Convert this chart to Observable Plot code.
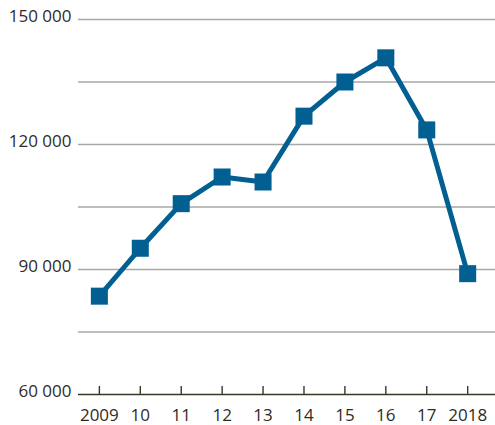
<!DOCTYPE html>
<html>
<head>
<meta charset="utf-8">
<script src="https://cdn.jsdelivr.net/npm/d3@7"></script>
<script src="https://cdn.jsdelivr.net/npm/@observablehq/plot@0.6"></script>
<style>
  html, body { margin: 0; padding: 0; background: #fff; }
  #chart svg { display: block; }
</style>
</head>
<body>
<div id="chart"></div>
<script>
const years = [2009, 2010, 2011, 2012, 2013, 2014, 2015, 2016, 2017, 2018];
const values = [83600, 95100, 105800, 112200, 111000, 126800, 135000, 140800, 123500, 89000];
const yearLabels = ["2009", "10", "11", "12", "13", "14", "15", "16", "17", "2018"];
const gridValues = [75000, 90000, 105000, 120000, 135000, 150000];
const yLabelValues = [60000, 90000, 120000, 150000];

const data = years.map((y, i) => ({year: y, value: values[i]}));
const lineColor = "#025f92";
const textColor = "#2f2b1f";

const fmt = d => d3.format(",")(d).replace(/,/g, " ");

const chart = Plot.plot({
  width: 495,
  height: 425,
  marginLeft: 78,
  marginRight: 0,
  marginTop: 19,
  marginBottom: 31,
  style: {fontFamily: "'Open Sans', sans-serif", fontSize: "17px", color: textColor, background: "#fff"},
  x: {domain: [2008.49, 2018.68]},
  y: {domain: [60000, 150000]},
  marks: [
    Plot.ruleY(gridValues, {stroke: "#a8a8a8", strokeWidth: 1.4}),
    Plot.ruleY([60000], {stroke: "#3b3727", strokeWidth: 1.4}),
    Plot.ruleX(years, {x: d => d, y1: 60000, y2: 60000, insetBottom: 8, stroke: "#3b3727", strokeWidth: 1.4}),
    Plot.axisY({ticks: yLabelValues, tickSize: 0, tickPadding: 7, tickFormat: fmt, label: null, dy: -3, fill: textColor, fontSize: 17}),
    Plot.axisX({ticks: years, tickSize: 0, tickPadding: 14, tickFormat: (d) => yearLabels[years.indexOf(d)], label: null, fill: textColor, fontSize: 17}),
    Plot.line(data, {x: "year", y: "value", stroke: lineColor, strokeWidth: 5, strokeLinejoin: "miter"}),
    Plot.dot(data, {x: "year", y: "value", symbol: "square", r: 9.6, fill: lineColor, stroke: "none"})
  ]
});
document.getElementById("chart").appendChild(chart);
</script>
</body>
</html>
